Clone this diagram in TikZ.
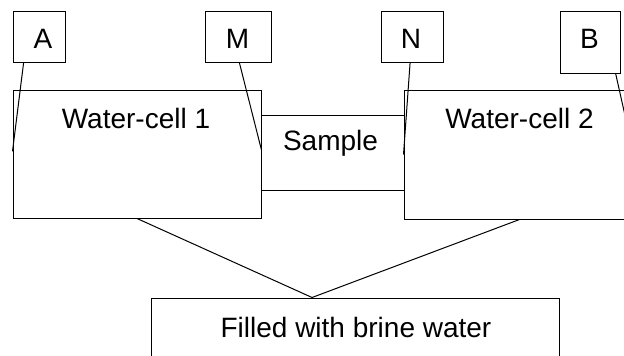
\documentclass[tikz,border=0pt]{standalone}
\usepackage{fontspec}
\setmainfont{Liberation Sans}
\usetikzlibrary{calc}
\begin{document}
\begin{tikzpicture}[x=1pt,y=-1pt,
  box/.style={draw, line width=1pt, inner sep=0pt, rectangle},
  lbl/.style={font=\fontsize{28}{32}\selectfont, inner sep=0pt, anchor=base},
  wire/.style={line width=1pt}]
\useasboundingbox (0,0) rectangle (624,356);
\clip (0,0) rectangle (624,356);
% label boxes
\node[box, minimum width=52pt, minimum height=51pt] (A) at (39,36.5) {};
\node[box, minimum width=66pt, minimum height=51pt] (M) at (238,36.5) {};
\node[box, minimum width=62pt, minimum height=51pt] (N) at (412,36.5) {};
\node[box, minimum width=60pt, minimum height=62pt] (B) at (590,42) {};
\node[lbl] (tA) at (43,48) {A};
\node[lbl] (tM) at (237.5,48) {M};
\node[lbl] (tN) at (411,48) {N};
\node[lbl] (tB) at (589.5,48) {B};
% cells
\node[box, minimum width=248pt, minimum height=128pt] (W1) at (137,154) {};
\node[box, minimum width=231pt, minimum height=129pt] (W2) at (519.5,154.5) {};
\node[box, minimum width=143pt, minimum height=75pt] (S) at (332.5,152.5) {};
\node[box, minimum width=408pt, minimum height=112pt] (F) at (355,354) {};
\node[lbl] (tW1) at (136,128) {Water-cell 1};
\node[lbl] (tW2) at (519.5,128) {Water-cell 2};
\node[lbl] (tS) at (330.5,150) {Sample};
\node[lbl] (tF) at (356,337) {Filled with brine water};
% connectors
\draw[wire] ($(A.south west)!0.21!(A.south east)$) -- ($(W1.north west)!0.48!(W1.south west)$);
\draw[wire] ($(M.south west)!0.52!(M.south east)$) -- ($(W1.north east)!0.47!(W1.south east)$);
\draw[wire] ($(N.south west)!0.47!(N.south east)$) -- ($(W2.north west)!0.5!(W2.south west)$);
\draw[wire] ($(B.south west)!0.92!(B.south east)$) -- ($(W2.north east)!0.56!(W2.south east)$);
\draw[wire] (W1.south) -- ($(F.north west)!0.395!(F.north east)$);
\draw[wire] (W2.south) -- ($(F.north west)!0.395!(F.north east)$);
\end{tikzpicture}
\end{document}
